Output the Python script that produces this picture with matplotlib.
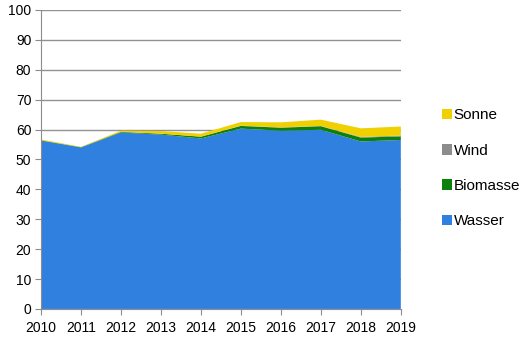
import matplotlib.pyplot as plt
from matplotlib.patches import Patch

plt.rcParams['font.family'] = ['Liberation Sans', 'DejaVu Sans']

# Jahresproduktion nach Quelle
years = [2010, 2011, 2012, 2013, 2014, 2015, 2016, 2017, 2018, 2019]
wasser = [56.3, 54.0, 59.0, 58.3, 57.0, 60.3, 59.6, 59.9, 56.0, 56.5]
biomasse = [0.1, 0.1, 0.2, 0.3, 0.6, 0.9, 1.0, 1.2, 1.3, 1.2]
wind = [0.0, 0.0, 0.0, 0.0, 0.0, 0.1, 0.1, 0.1, 0.2, 0.3]
sonne = [0.3, 0.1, 0.4, 0.9, 1.0, 1.2, 1.7, 2.1, 2.9, 3.0]

labels = ["Wasser", "Biomasse", "Wind", "Sonne"]
colors = ["#3080E0", "#0B800B", "#8C8C8C", "#F0D000"]

fig = plt.figure(figsize=(5.26, 3.41), dpi=100)
ax = fig.add_axes([0.078, 0.094, 0.684, 0.877])

ax.stackplot(years, wasser, biomasse, wind, sonne, colors=colors,
             linewidth=0, zorder=2)

ax.set_xlim(2010, 2019)
ax.set_ylim(0, 100)
ax.set_xticks(years)
ax.set_yticks(range(0, 101, 10))
ax.grid(axis='y', color='#929292', linewidth=1.0, zorder=1)
for side in ['top', 'right']:
    ax.spines[side].set_visible(False)
for side in ['left', 'bottom']:
    ax.spines[side].set_color('#8C8C8C')
ax.tick_params(axis='both', colors='#8C8C8C', length=4, labelcolor='black')
ax.tick_params(axis='y', labelsize=10, pad=3)
ax.tick_params(axis='x', labelsize=10, pad=5)

# Legende rechts, oberste Schicht zuerst
handles = [Patch(facecolor=c, edgecolor='none') for c in colors][::-1]
ax.legend(handles, labels[::-1], loc='center left',
          bbox_to_anchor=(1.075, 0.47), frameon=False, fontsize=11,
          handlelength=0.7, handleheight=0.7, handletextpad=0.1,
          labelspacing=1.4)

fig.savefig("out.png", dpi=100)
